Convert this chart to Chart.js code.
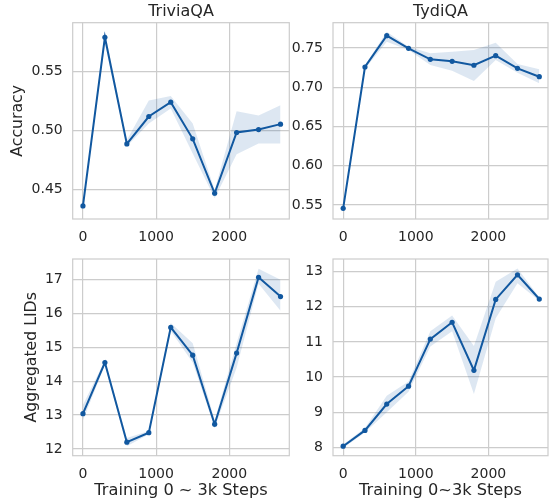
<!DOCTYPE html>
<html>
<head>
<meta charset="utf-8">
<script src="https://cdn.jsdelivr.net/npm/chart.js@4.4.1/dist/chart.umd.min.js"></script>
<style>
  body { margin: 0; background: #fff; }
  canvas { position: absolute; left: 0; top: 0; }
</style>
</head>
<body>
<canvas id="tl" width="552" height="501"></canvas>
<canvas id="tr" width="552" height="501"></canvas>
<canvas id="bl" width="552" height="501"></canvas>
<canvas id="br" width="552" height="501"></canvas>
<script>
// training steps (x) and tick positions
const steps = [0, 300, 600, 900, 1200, 1500, 1800, 2100, 2400, 2700];
const xTicks = [0, 1000, 2000];

// TriviaQA accuracy: mean and shaded band
const triviaAcc   = [0.4358, 0.5793, 0.4886, 0.5119, 0.5241, 0.4929, 0.4466, 0.4983, 0.5008, 0.5054];
const triviaAccHi = [0.4370, 0.5845, 0.4920, 0.5255, 0.5294, 0.5060, 0.4494, 0.5164, 0.5128, 0.5215];
const triviaAccLo = [0.4345, 0.5740, 0.4865, 0.5060, 0.5187, 0.4804, 0.4424, 0.4798, 0.4890, 0.4890];
const triviaAccTicks = [0.45, 0.50, 0.55];

// TydiQA accuracy
const tydiAcc   = [0.5458, 0.7258, 0.7657, 0.7496, 0.7356, 0.7330, 0.7280, 0.7402, 0.7241, 0.7134];
const tydiAccHi = [0.5470, 0.7280, 0.7708, 0.7515, 0.7432, 0.7453, 0.7475, 0.7568, 0.7296, 0.7228];
const tydiAccLo = [0.5445, 0.7235, 0.7580, 0.7475, 0.7283, 0.7210, 0.7080, 0.7347, 0.7186, 0.7050];
const tydiAccTicks = [0.55, 0.60, 0.65, 0.70, 0.75];

// TriviaQA aggregated LIDs
const triviaLid   = [13.04, 14.55, 12.20, 12.48, 15.59, 14.77, 12.73, 14.83, 17.07, 16.50];
const triviaLidHi = [13.30, 14.62, 12.32, 12.53, 15.72, 15.12, 12.85, 15.12, 17.32, 17.00];
const triviaLidLo = [12.85, 14.48, 12.08, 12.43, 15.48, 14.55, 12.63, 14.40, 16.88, 16.08];
const triviaLidTicks = [12, 13, 14, 15, 16, 17];

// TydiQA aggregated LIDs
const tydiLid   = [8.03, 8.48, 9.23, 9.74, 11.08, 11.56, 10.19, 12.21, 12.91, 12.22];
const tydiLidHi = [8.08, 8.55, 9.47, 9.87, 11.30, 11.75, 10.88, 12.71, 13.09, 12.27];
const tydiLidLo = [7.98, 8.42, 9.00, 9.58, 10.87, 11.30, 9.52, 11.67, 12.67, 12.17];
const tydiLidTicks = [8, 9, 10, 11, 12, 13];

const LINE = '#1158a0';
const BAND = 'rgba(17, 88, 160, 0.14)';
const GRID = '#cccccc';
const TEXT = '#262626';
const FONT = 'DejaVu Sans';
const W = 552, H = 501;

const xy = (ys) => ys.map((y, i) => ({ x: steps[i], y }));

// light frame all around the plot area, like the seaborn whitegrid spines
const frame = {
  id: 'frame',
  afterLayout(chart) {
    // centre the title over the plot area, not over the whole box
    if (chart.titleBlock) {
      chart.titleBlock.left = chart.chartArea.left;
      chart.titleBlock.right = chart.chartArea.right;
    }
  },
  beforeDatasetsDraw(chart) {
    const { ctx, chartArea: a } = chart;
    ctx.save();
    ctx.strokeStyle = GRID;
    ctx.lineWidth = 1.2;
    ctx.strokeRect(a.left, a.top, a.right - a.left, a.bottom - a.top);
    ctx.restore();
  }
};

function panel(id, p) {
  const yWidth = p.area.l - p.padLeft;
  const xHeight = p.xTitle ? H - p.area.b : 30;
  new Chart(document.getElementById(id), {
    type: 'line',
    data: {
      datasets: [
        { data: xy(p.mean), borderColor: LINE, backgroundColor: LINE, borderWidth: 2,
          pointRadius: 2.6, pointBorderWidth: 0, pointBackgroundColor: LINE, fill: false },
        { data: xy(p.lo), borderWidth: 0, pointRadius: 0, fill: false },
        { data: xy(p.hi), borderWidth: 0, pointRadius: 0, fill: '-1', backgroundColor: BAND }
      ]
    },
    options: {
      responsive: false,
      animation: false,
      layout: {
        padding: {
          left: p.padLeft,
          right: W - p.area.r,
          top: p.title ? 0 : p.area.t,
          bottom: H - p.area.b - xHeight
        }
      },
      plugins: {
        legend: { display: false },
        tooltip: { enabled: false },
        title: {
          display: !!p.title,
          text: p.title,
          color: TEXT,
          font: { family: FONT, size: 16, weight: 'normal', lineHeight: 1.2 },
          padding: { top: 2, bottom: 1.5 }
        }
      },
      scales: {
        x: {
          type: 'linear',
          min: -140, max: 2820,
          afterBuildTicks: (s) => { s.ticks = xTicks.map(v => ({ value: v })); },
          afterFit: (s) => { s.height = xHeight; },
          grid: { color: GRID, lineWidth: 1.2, drawTicks: false },
          border: { display: false },
          ticks: {
            color: TEXT, padding: 10, maxRotation: 0, font: { family: FONT, size: 14 },
            callback: (v) => String(v)
          },
          title: {
            display: !!p.xTitle,
            text: p.xTitle,
            color: TEXT,
            font: { family: FONT, size: 16.2, lineHeight: 1.2 },
            padding: { top: 0, bottom: 0 }
          }
        },
        y: {
          min: p.yMin, max: p.yMax,
          afterBuildTicks: (s) => { s.ticks = p.yTicks.map(v => ({ value: v })); },
          afterFit: (s) => { s.width = yWidth; },
          grid: { color: GRID, lineWidth: 1.2, drawTicks: false },
          border: { display: false },
          ticks: {
            color: TEXT, padding: 10, font: { family: FONT, size: 14 },
            callback: (v) => p.digits ? Number(v).toFixed(p.digits) : String(v)
          },
          title: {
            display: !!p.yTitle,
            text: p.yTitle,
            color: TEXT,
            font: { family: FONT, size: 15.7, lineHeight: 1.2 },
            padding: { top: p.yTitlePad || 0, bottom: 0 }
          }
        }
      }
    },
    plugins: [frame]
  });
}

panel('tl', {
  title: 'TriviaQA', yTitle: 'Accuracy', yTitlePad: 8.3, padLeft: 0,
  area: { l: 72.7, r: 289.3, t: 22.7, b: 219 },
  mean: triviaAcc, hi: triviaAccHi, lo: triviaAccLo,
  yMin: 0.4247, yMax: 0.5917, yTicks: triviaAccTicks, digits: 2
});

panel('tr', {
  title: 'TydiQA', padLeft: 283,
  area: { l: 333, r: 550, t: 22.7, b: 219 },
  mean: tydiAcc, hi: tydiAccHi, lo: tydiAccLo,
  yMin: 0.5322, yMax: 0.7822, yTicks: tydiAccTicks, digits: 2
});

panel('bl', {
  yTitle: 'Aggregated LIDs', yTitlePad: 22.9, padLeft: 0,
  xTitle: 'Training 0 ~ 3k Steps',
  area: { l: 72.7, r: 289.3, t: 259, b: 455.7 },
  mean: triviaLid, hi: triviaLidHi, lo: triviaLidLo,
  yMin: 11.80, yMax: 17.61, yTicks: triviaLidTicks, digits: 0
});

panel('br', {
  padLeft: 283, xTitle: 'Training 0~3k Steps',
  area: { l: 333, r: 550, t: 259, b: 455.7 },
  mean: tydiLid, hi: tydiLidHi, lo: tydiLidLo,
  yMin: 7.76, yMax: 13.36, yTicks: tydiLidTicks, digits: 0
});
</script>
</body>
</html>
